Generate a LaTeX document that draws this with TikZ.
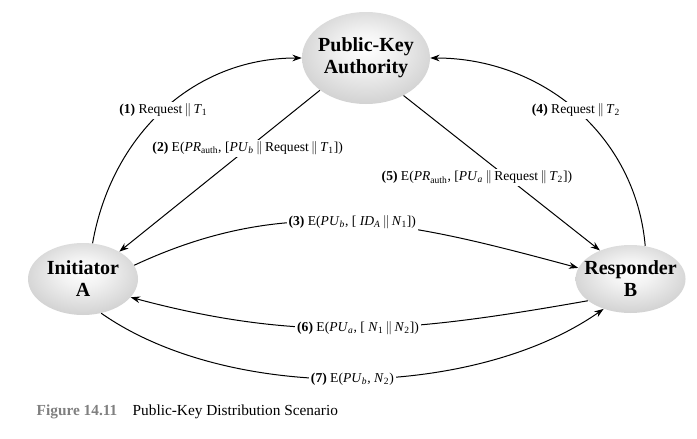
\documentclass[tikz,border=0pt]{standalone}
\usepackage{fontspec}
\setmainfont{Liberation Serif}
\usetikzlibrary{arrows.meta,positioning,shapes.geometric}

\pgfdeclareradialshading{orb}{\pgfpoint{0bp}{6bp}}{color(0bp)=(white); color(10bp)=(gray!10); color(38bp)=(gray!50); color(50bp)=(gray!72)}
\newcommand{\conc}{\,$\Vert$\,}

\begin{document}
\begin{tikzpicture}[x=0.75pt,y=-0.75pt,
    ball/.style={ellipse,shade,shading=orb,inner sep=0pt},
    title/.style={font=\fontsize{15}{16.5}\selectfont\bfseries,align=center},
    msg/.style={font=\fontsize{10.2}{12}\selectfont,fill=white,inner sep=1.5pt},
    flow/.style={-{Stealth[length=7pt,width=5pt]},line width=0.75pt}]
  \useasboundingbox (0,0) rectangle (697,439);

  \node[ball,minimum width=96pt,minimum height=69pt,label={[title]center:Public-Key\\Authority}] (auth) at (366,58) {};
  \node[ball,minimum width=82.5pt,minimum height=54pt,label={[title]center:Initiator\\A}] (ini) at (83,279) {};
  \node[ball,right=327.75pt of ini,minimum width=82.5pt,minimum height=51pt,label={[title]center:Responder\\B}] (resp) {};

  \draw[flow] (ini.75) to[out=80,in=180] node[msg] {\textbf{(1)} Request\conc\textit{T}\textsubscript{1}} (auth.west);
  \draw[flow] (auth.215) -- node[msg,pos=0.36] {\textbf{(2)} E(\textit{PR}\textsubscript{auth}, [\textit{PU}\textsubscript{\textit{b}}\conc Request\conc\textit{T}\textsubscript{1}])} (ini.37);
  \draw[flow] (ini.15) to[out=25,in=165] node[msg] {\textbf{(3)} E(\textit{PU}\textsubscript{\textit{b}}, [ \textit{ID}\textsubscript{\textit{A}}\conc\textit{N}\textsubscript{1}])} (resp.168);
  \draw[flow] (resp.66) to[out=95,in=0] node[msg] {\textbf{(4)} Request\conc\textit{T}\textsubscript{2}} (auth.east);
  \draw[flow] (auth.-45) -- node[msg,pos=0.53,xshift=-23pt] {\textbf{(5)} E(\textit{PR}\textsubscript{auth}, [\textit{PU}\textsubscript{\textit{a}}\conc Request\conc\textit{T}\textsubscript{2}])} (resp.137);
  \draw[flow] (resp.207) to[out=190,in=-15] node[msg] {\textbf{(6)} E(\textit{PU}\textsubscript{\textit{a}}, [ \textit{N}\textsubscript{1}\conc\textit{N}\textsubscript{2}])} (ini.-21);
  \draw[flow] (ini.-62) to[out=-35,in=215,looseness=0.8] node[msg] {\textbf{(7)} E(\textit{PU}\textsubscript{\textit{b}}, \textit{N}\textsubscript{2})} (resp.228);

  \node[anchor=west,font=\fontsize{11.5}{13}\selectfont] (cap) at (32,412) {\textcolor{black!50}{\textbf{Figure 14.11}}\quad Public-Key Distribution Scenario};
\end{tikzpicture}
\end{document}
